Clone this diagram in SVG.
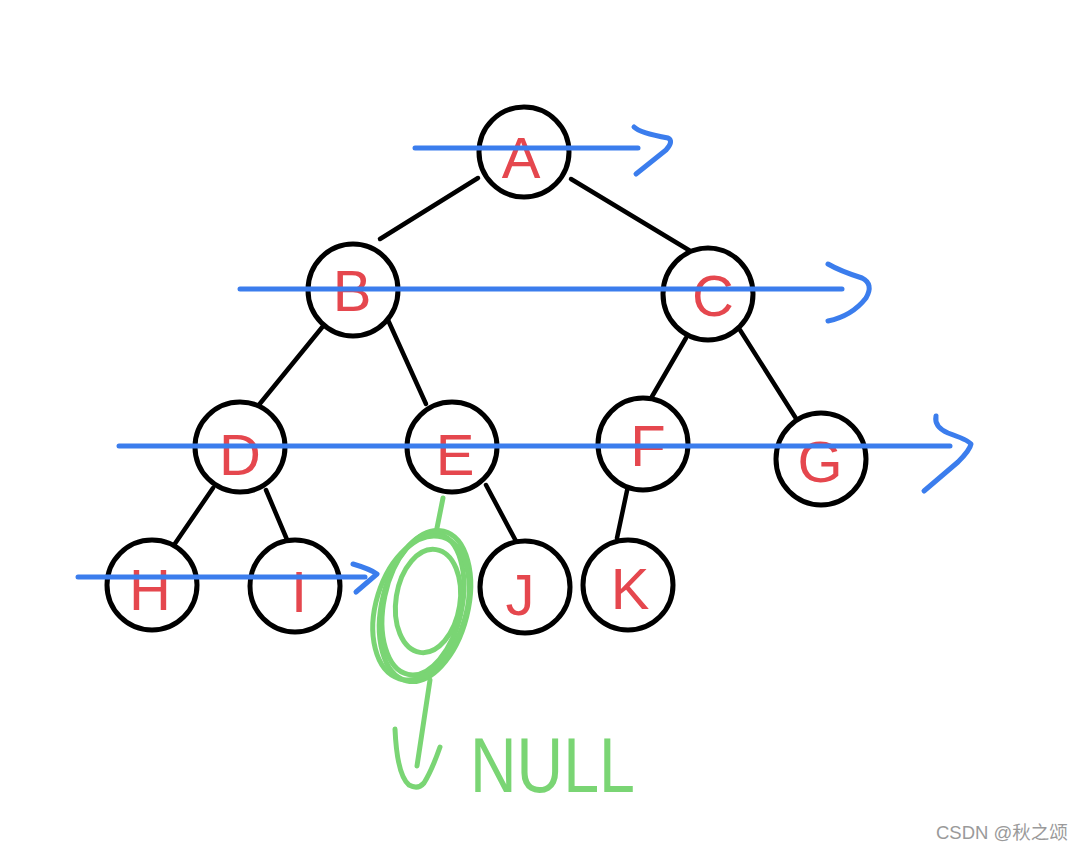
<svg xmlns="http://www.w3.org/2000/svg" width="1084" height="851" viewBox="0 0 1084 851">
<style>
.node{fill:#fff;stroke:#000;stroke-width:5}
.edge{stroke:#000;stroke-width:4.5;stroke-linecap:round;fill:none}
.lbl{font-family:"Liberation Sans",Arial,sans-serif;font-size:58px;fill:#e5474e;text-anchor:middle}
.blue{stroke:#3b7ded;stroke-width:5;stroke-linecap:round;stroke-linejoin:round;fill:none}
.green{stroke:#7ad574;stroke-width:5;stroke-linecap:round;stroke-linejoin:round;fill:none}
</style>
<rect width="1084" height="851" fill="#fff"/>
<g id="connectors">
<line class="edge" x1="478" y1="178" x2="380" y2="239"/>
<line class="edge" x1="571" y1="179" x2="692" y2="252"/>
<line class="edge" x1="324" y1="325" x2="258" y2="406"/>
<line class="edge" x1="388" y1="320" x2="426" y2="404"/>
<line class="edge" x1="686" y1="338" x2="650" y2="400"/>
<line class="edge" x1="740" y1="330" x2="797" y2="420"/>
<line class="edge" x1="213" y1="488" x2="174" y2="545"/>
<line class="edge" x1="266" y1="490" x2="288" y2="542"/>
<line class="edge" x1="486" y1="485" x2="517" y2="543"/>
<line class="edge" x1="628" y1="486" x2="617" y2="538"/>
</g>
<g id="node-A"><ellipse class="node" cx="524" cy="152" rx="45" ry="45"/><text class="lbl" x="521" y="178">A</text></g>
<g id="node-B"><ellipse class="node" cx="353" cy="290" rx="45" ry="46"/><text class="lbl" x="352" y="311">B</text></g>
<g id="node-C"><ellipse class="node" cx="708" cy="294" rx="45" ry="46"/><text class="lbl" x="713" y="316">C</text></g>
<g id="node-D"><ellipse class="node" cx="240" cy="447" rx="45" ry="45"/><text class="lbl" x="240" y="475">D</text></g>
<g id="node-E"><ellipse class="node" cx="452" cy="447" rx="45" ry="45"/><text class="lbl" x="455" y="475">E</text></g>
<g id="node-F"><ellipse class="node" cx="643" cy="444" rx="45" ry="46"/><text class="lbl" x="648" y="466">F</text></g>
<g id="node-G"><ellipse class="node" cx="821" cy="459" rx="45" ry="46"/><text class="lbl" x="820" y="482">G</text></g>
<g id="node-H"><ellipse class="node" cx="152" cy="585" rx="45" ry="45"/><text class="lbl" x="150" y="610">H</text></g>
<g id="node-I"><ellipse class="node" cx="295" cy="586" rx="45" ry="46"/><text class="lbl" x="299" y="612">I</text></g>
<g id="node-J"><ellipse class="node" cx="525" cy="587" rx="45" ry="46"/><text class="lbl" x="520" y="615">J</text></g>
<g id="node-K"><ellipse class="node" cx="628" cy="585" rx="45" ry="45"/><text class="lbl" x="630" y="609">K</text></g>
<g id="level-arrows">
<line class="blue" x1="415" y1="148" x2="638" y2="148"/>
<path class="blue" d="M634 127 Q640 133 668 138 Q674 141 666 150 L636 174"/>
<line class="blue" x1="240" y1="289" x2="842" y2="289"/>
<path class="blue" d="M828 264 Q840 271 862 278 Q874 284 866 298 Q852 316 828 321"/>
<line class="blue" x1="119" y1="446" x2="950" y2="446"/>
<path class="blue" d="M936 416 Q934 427 948 433 Q968 440 971 444 Q970 450 958 462 L924 491"/>
<line class="blue" x1="78" y1="577" x2="365" y2="577"/>
<path class="blue" d="M353 564 Q370 569 377 574 L356 592"/>
</g>
<g id="null-marker">
<line class="green" x1="443" y1="498" x2="436" y2="533"/>
<ellipse class="green" cx="425" cy="606" rx="43" ry="77" transform="rotate(14 425 606)"/>
<ellipse class="green" cx="423" cy="604" rx="39" ry="72" transform="rotate(12 423 604)"/>
<ellipse class="green" cx="421" cy="608" rx="45" ry="74" transform="rotate(17 421 608)"/>
<ellipse class="green" cx="428" cy="601" rx="32" ry="52" transform="rotate(9 428 601)"/>
<line class="green" x1="430" y1="680" x2="417" y2="766"/>
<path class="green" d="M395 729 Q397 775 409 785 Q418 790 424 783 Q432 770 440 747"/>
<text x="470" y="792" font-family="'Liberation Sans',Arial,sans-serif" font-size="78" fill="#7ad574" textLength="165" lengthAdjust="spacingAndGlyphs">NULL</text>
</g>
<text x="936" y="839" font-family="'Liberation Sans','Noto Sans CJK SC',sans-serif" font-size="18.5" fill="#9a9a9a">CSDN @秋之颂</text>
</svg>
